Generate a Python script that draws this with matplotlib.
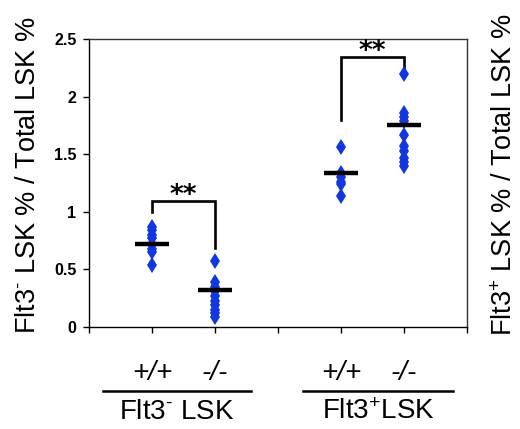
import matplotlib
matplotlib.use("Agg")
import matplotlib.pyplot as plt
from matplotlib import font_manager
import numpy as np

plt.rcParams['mathtext.fontset'] = 'custom'
plt.rcParams['mathtext.rm'] = 'Liberation Sans'
plt.rcParams['mathtext.it'] = 'Liberation Sans:italic'

# Data
positions = [1, 2, 4, 5]
flt3neg_wt = [0.87, 0.84, 0.80, 0.77, 0.72, 0.68, 0.65, 0.54]
flt3neg_ko = [0.57, 0.39, 0.35, 0.31, 0.27, 0.23, 0.19, 0.15, 0.12, 0.09]
flt3pos_wt = [1.56, 1.34, 1.30, 1.26, 1.24, 1.14]
flt3pos_ko = [2.20, 1.86, 1.82, 1.79, 1.67, 1.57, 1.53, 1.47, 1.43, 1.40]
groups = [flt3neg_wt, flt3neg_ko, flt3pos_wt, flt3pos_ko]
means = [0.72, 0.32, 1.34, 1.75]
genotypes = ['+/+', '-/-', '+/+', '-/-']
group_labels = [r'Flt3$^{\text{-}}$ LSK', r'Flt3$^{+}$LSK']
ylabels = [r'Flt3$^{\text{-}}$ LSK % / Total LSK %', r'Flt3$^{+}$ LSK % / Total LSK %']
yticks = [0, 0.5, 1, 1.5, 2, 2.5]
ytick_labels = ['0', '0.5', '1', '1.5', '2', '2.5']
# brackets: (left pos, right pos, top, left leg bottom, right leg bottom)
brackets = [(1, 2, 1.094, 1.00, 0.69), (4, 5, 2.34, 1.80, 2.23)]
sig = ['**', '**']

# pick a family whose italic face really exists (by file)
it_prop = None
for cand in ['Liberation Sans', 'Noto Sans', 'Roboto', 'Open Sans', 'Lato', 'Inter', 'DejaVu Sans']:
    for fe in font_manager.fontManager.ttflist:
        if fe.name == cand and fe.style in ('italic', 'oblique') and fe.weight in (400, 'normal', 'regular'):
            it_prop = font_manager.FontProperties(fname=fe.fname)
            break
    if it_prop is not None:
        break
if it_prop is None:
    it_prop = font_manager.FontProperties(family='Liberation Sans', style='italic')
it_prop.set_size(20)

fig = plt.figure(figsize=(5.2, 4.29), dpi=100)
ax = fig.add_axes([89/520, 1-327/429, (467-89)/520, (327-39)/429])

blue = '#1236e0'
for p, g in zip(positions, groups):
    ax.plot([p]*len(g), g, linestyle='none', marker='d', markersize=8.5,
            color=blue, markeredgewidth=0, zorder=3)
for p, m in zip(positions, means):
    ax.plot([p-0.27, p+0.27], [m, m], color='black', lw=3.2, zorder=4,
            solid_capstyle='butt')

for (l, r, top, lb, rb), s in zip(brackets, sig):
    ax.plot([l, l, r, r], [lb, top, top, rb], color='black', lw=1.9,
            solid_joinstyle='miter', zorder=2)
    ax.text((l+r)/2, top - 0.015, s, ha='center', va='baseline', fontsize=19,
            fontweight='bold', family='DejaVu Sans')

ax.set_xlim(0, 6)
ax.set_ylim(0, 2.5)
ax.set_xticks(range(0, 7))
ax.set_xticklabels([])
ax.set_yticks(yticks)
ax.set_yticklabels(ytick_labels, fontweight='bold', fontsize=11.5,
                   family=['Liberation Sans Narrow', 'Liberation Sans'])
ax.tick_params(axis='both', direction='out', length=4, width=1)
ax.tick_params(axis='y', pad=5)
for sp in ax.spines.values():
    sp.set_linewidth(1.0)
ax.spines['top'].set_color('#333333')
ax.spines['right'].set_color('#333333')

fam = ['Liberation Sans', 'DejaVu Sans']
for p, gt in zip(positions, genotypes):
    ax.text(p, -0.40, gt, ha='center', va='center',
            fontproperties=it_prop, clip_on=False)

# group underlines and labels (figure pixel coordinates)
for (x0, x1), lab in zip([(103, 251), (303, 453)], group_labels):
    fig.add_artist(plt.Line2D([x0/520, x1/520], [1-391/429, 1-391/429],
                              color='black', lw=1.8))
    fig.text((x0+x1)/2/520, 1-412/429, lab, ha='center', va='center',
             fontsize=20, family=fam)

fig.text(28/520, 1-175/429, ylabels[0], rotation=90,
         ha='center', va='center', fontsize=19.5, family=fam)
fig.text(505/520, 1-175/429, ylabels[1], rotation=90,
         ha='center', va='center', fontsize=19.5, family=fam)

fig.savefig('out.png', dpi=100)
